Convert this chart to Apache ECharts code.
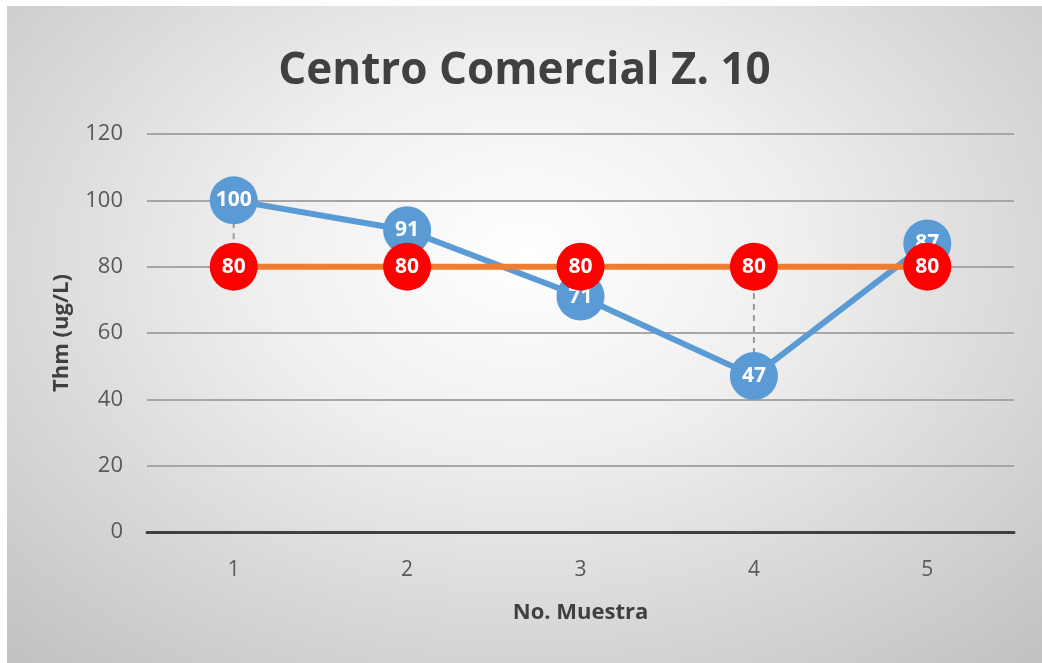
<!DOCTYPE html>
<html>
<head>
<meta charset="utf-8">
<style>
  html, body { margin: 0; padding: 0; background: #ffffff; }
  #chart {
    position: absolute; left: 7px; top: 6px; width: 1035px; height: 657px;
    background: radial-gradient(ellipse 75% 85% at 50% 38%, #ffffff 0%, #efefef 35%, #d9d9d9 65%, #c0c0c0 100%);
  }
</style>
</head>
<body>
<div id="chart"></div>
<script src="https://cdn.jsdelivr.net/npm/echarts@6/dist/echarts.min.js"></script>
<script>
  // datos
  var categories = ['1', '2', '3', '4', '5'];
  var muestra = [100, 91, 71, 47, 87];
  var limite = [80, 80, 80, 80, 80];
  var yMin = 0, yMax = 120, yStep = 20;

  var font = '"Open Sans", sans-serif';

  // lineas de caida entre las dos series
  var dropData = categories.map(function (c, i) { return [i, muestra[i], limite[i]]; });

  var myChart = echarts.init(document.getElementById('chart'));
  myChart.setOption({
    animation: false,
    title: {
      text: 'Centro Comercial Z. 10',
      left: 'center',
      top: 38,
      textStyle: { fontFamily: font, fontSize: 44, fontWeight: 'bold', color: '#404040' }
    },
    grid: { left: 140, right: 28, top: 128, bottom: 131 },
    xAxis: {
      type: 'category',
      data: categories,
      boundaryGap: true,
      name: 'No. Muestra',
      nameLocation: 'middle',
      nameGap: 70,
      nameTextStyle: { fontFamily: font, fontSize: 22, fontWeight: 'bold', color: '#404040' },
      axisLine: { lineStyle: { color: '#404040', width: 3 } },
      axisTick: { show: false },
      axisLabel: { margin: 28, fontFamily: font, fontSize: 21, color: '#595959' }
    },
    yAxis: {
      type: 'value',
      min: yMin, max: yMax, interval: yStep,
      name: 'Thm (ug/L)',
      nameLocation: 'middle',
      nameGap: 74,
      nameTextStyle: { fontFamily: font, fontSize: 22, fontWeight: 'bold', color: '#404040' },
      axisLine: { show: false },
      axisTick: { show: false },
      axisLabel: { margin: 24, fontFamily: font, fontSize: 22, color: '#595959' },
      splitLine: { lineStyle: { color: '#a6a6a6', width: 2 } }
    },
    series: [
      {
        type: 'custom',
        z: 1,
        data: dropData,
        renderItem: function (params, api) {
          var p1 = api.coord([api.value(0), api.value(1)]);
          var p2 = api.coord([api.value(0), api.value(2)]);
          return {
            type: 'line',
            shape: { x1: p1[0], y1: p1[1], x2: p2[0], y2: p2[1] },
            style: { stroke: '#9a9a9a', lineWidth: 2, lineDash: [6, 5] }
          };
        },
        silent: true
      },
      {
        name: 'Muestra',
        type: 'line',
        z: 3,
        data: muestra,
        symbol: 'circle',
        symbolSize: 48,
        lineStyle: { color: '#5b9bd5', width: 6 },
        itemStyle: { color: '#5b9bd5' },
        label: { show: true, position: 'inside', color: '#ffffff', fontFamily: font, fontSize: 21, fontWeight: 'bold' }
      },
      {
        name: 'Limite',
        type: 'line',
        z: 4,
        data: limite,
        symbol: 'circle',
        symbolSize: 48,
        lineStyle: { color: '#ed7d31', width: 6 },
        itemStyle: { color: '#ff0000' },
        label: { show: true, position: 'inside', color: '#ffffff', fontFamily: font, fontSize: 21, fontWeight: 'bold' }
      }
    ]
  });
  window.addEventListener('resize', function () { myChart.resize(); });
</script>
</body>
</html>
